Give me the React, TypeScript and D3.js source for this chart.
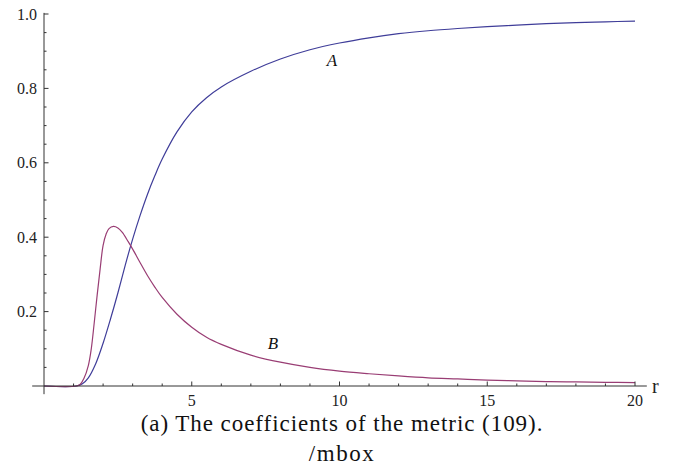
import * as d3 from "d3";

// values
const rA = [0, 1.1, 1.3, 1.5, 1.75, 2, 2.25, 2.5, 2.75, 3, 3.25, 3.5, 3.75, 4, 4.5, 5, 5.5, 6, 7, 8, 9, 10, 11, 12, 13, 14, 15, 16, 17, 18, 19, 20];
const valuesA = [0, 0, 0.006, 0.022, 0.06, 0.115, 0.18, 0.25, 0.325, 0.395, 0.458, 0.515, 0.565, 0.61, 0.683, 0.737, 0.775, 0.804, 0.846, 0.879, 0.904, 0.922, 0.936, 0.947, 0.955, 0.961, 0.966, 0.97, 0.974, 0.977, 0.979, 0.981];

const rB = [0, 1.1, 1.22, 1.35, 1.5, 1.6, 1.7, 1.8, 1.9, 2, 2.1, 2.2, 2.35, 2.5, 2.65, 2.85, 3, 3.25, 3.5, 3.75, 4, 4.5, 5, 5.5, 6, 7, 8, 9, 10, 11, 12, 13, 14, 15, 16, 17, 18, 19, 20];
const valuesB = [0, 0, 0.004, 0.02, 0.055, 0.1, 0.17, 0.245, 0.315, 0.378, 0.408, 0.423, 0.429, 0.425, 0.413, 0.388, 0.368, 0.332, 0.297, 0.266, 0.238, 0.193, 0.158, 0.131, 0.112, 0.083, 0.064, 0.05, 0.04, 0.033, 0.027, 0.022, 0.019, 0.016, 0.014, 0.012, 0.011, 0.01, 0.009];

const xMajor = [5, 10, 15, 20];
const yMajor = [0.2, 0.4, 0.6, 0.8, 1.0];

const W = 676;
const H = 471;
const SERIF = "'Liberation Serif', 'DejaVu Serif', serif";

export default function App() {
  const x = d3.scaleLinear().domain([0, 20]).range([44, 635]);
  const y = d3.scaleLinear().domain([0, 1]).range([386, 14]);

  const xMinor = d3.range(1, 21).filter((v) => v % 5 !== 0);
  const yMinor = d3.range(1, 20).map((i) => i * 0.05).filter((v) => Math.abs(v * 5 - Math.round(v * 5)) > 1e-6);

  const line = d3
    .line<[number, number]>()
    .x((d) => x(d[0]))
    .y((d) => y(d[1]))
    .curve(d3.curveCatmullRom.alpha(0.5));

  const pathA = line(rA.map((r, i) => [r, valuesA[i]]));
  const pathB = line(rB.map((r, i) => [r, valuesB[i]]));

  const axisColor = "#333";
  const txt = { fontFamily: SERIF };

  return (
    <svg width={W} height={H} style={{ position: "absolute", left: 0, top: 0 }}>
      <rect width={W} height={H} fill="white" />

      {/* curves */}
      <path d={pathA ?? ""} fill="none" stroke="#3f3d99" strokeWidth={1.2} />
      <path d={pathB ?? ""} fill="none" stroke="#993d74" strokeWidth={1.2} />

      {/* axes */}
      <line x1={x(-0.4)} x2={x(20.4)} y1={y(0)} y2={y(0)} stroke={axisColor} strokeWidth={1} />
      <line x1={x(0)} x2={x(0)} y1={y(1.003)} y2={y(-0.022)} stroke={axisColor} strokeWidth={1} />

      {xMajor.map((v) => (
        <g key={"xm" + v}>
          <line x1={x(v)} x2={x(v)} y1={y(0)} y2={y(0) - 4.5} stroke={axisColor} />
          <text x={x(v)} y={406} textAnchor="middle" fontSize={16} fill="#222" style={txt}>
            {v}
          </text>
        </g>
      ))}
      {xMinor.map((v) => (
        <line key={"xn" + v} x1={x(v)} x2={x(v)} y1={y(0)} y2={y(0) - 2.5} stroke={axisColor} />
      ))}

      {yMajor.map((v) => (
        <g key={"ym" + v}>
          <line x1={x(0)} x2={x(0) + 4.5} y1={y(v)} y2={y(v)} stroke={axisColor} />
          <text x={37} y={y(v)} textAnchor="end" dominantBaseline="central" fontSize={16} fill="#222" style={txt}>
            {v.toFixed(1)}
          </text>
        </g>
      ))}
      {yMinor.map((v) => (
        <line key={"yn" + v} x1={x(0)} x2={x(0) + 2.5} y1={y(v)} y2={y(v)} stroke={axisColor} />
      ))}

      <text x={652} y={y(0)} dominantBaseline="central" fontSize={20} fill="#222" style={txt}>
        r
      </text>

      {/* curve labels */}
      <text x={332} y={60} textAnchor="middle" dominantBaseline="central" fontSize={17} fontStyle="italic" fill="#111" style={txt}>
        A
      </text>
      <text x={273} y={343} textAnchor="middle" dominantBaseline="central" fontSize={17} fontStyle="italic" fill="#111" style={txt}>
        B
      </text>

      {/* caption */}
      <text x={342} y={431} textAnchor="middle" fontSize={23} letterSpacing={0.95} fill="#111" style={txt}>
        (a) The coefficients of the metric (109).
      </text>
      <text x={342} y={461} textAnchor="middle" fontSize={23} letterSpacing={1.5} fill="#111" style={txt}>
        /mbox
      </text>
    </svg>
  );
}
